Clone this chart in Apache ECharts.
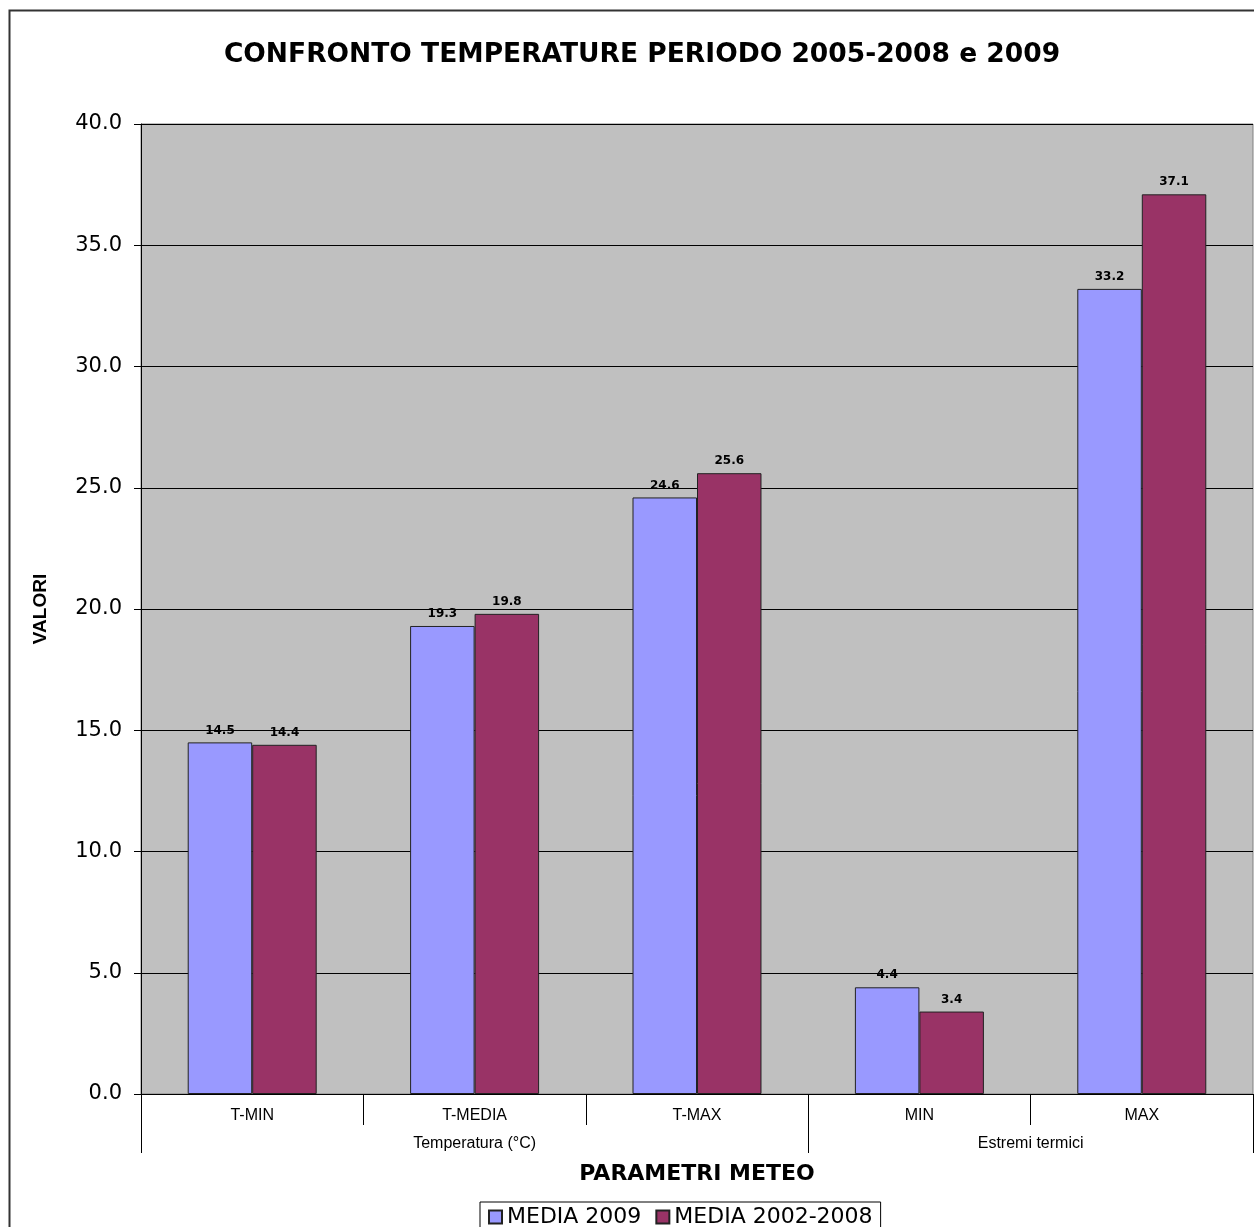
<!DOCTYPE html>
<html>
<head>
<meta charset="utf-8">
<style>
  html, body { margin: 0; padding: 0; background: #fff; }
  #chart { width: 1254px; height: 1227px; }
</style>
<script src="https://cdn.jsdelivr.net/npm/echarts@6/dist/echarts.min.js"></script>
</head>
<body>
<div id="chart"></div>
<script>
var categories = ['T-MIN', 'T-MEDIA', 'T-MAX', 'MIN', 'MAX'];
var groups = ['Temperatura (°C)', 'Estremi termici'];
var groupBounds = [0, 3, 5];   // in category units
var groupCenters = [1.5, 4];
var media2009 = [14.5, 19.3, 24.6, 4.4, 33.2];
var media0208 = [14.4, 19.8, 25.6, 3.4, 37.1];
var yTicks = [0, 5, 10, 15, 20, 25, 30, 35, 40];

var chartDom = document.getElementById('chart');
var myChart = echarts.init(chartDom);
var font = '"Liberation Sans", Arial, sans-serif';
var wide = '"DejaVu Sans", sans-serif';

var barLabel = {
  show: true,
  position: 'top',
  distance: 6,
  fontFamily: wide,
  fontWeight: 'bold',
  fontSize: 12,
  color: '#000',
  formatter: function (p) { return p.value.toFixed(1); }
};

var option = {
  animation: false,
  graphic: [
    {
      type: 'rect',
      left: 7, top: 8,
      shape: { width: 1400, height: 1400 },
      style: { fill: 'none', stroke: '#333', lineWidth: 2 },
      z: -10
    }
  ],
  title: {
    text: 'CONFRONTO TEMPERATURE PERIODO 2005-2008 e 2009',
    left: 637, top: 37, textAlign: 'center',
    textStyle: { fontFamily: wide, fontWeight: 'bold', fontSize: 26.5, color: '#000' }
  },
  legend: {
    left: 480, top: 1202,
    padding: [4, 8, 6, 8],
    borderColor: '#000', borderWidth: 1,
    icon: 'rect',
    itemWidth: 13, itemHeight: 13, itemGap: 14,
    textStyle: { fontFamily: wide, fontSize: 22, color: '#000' },
    data: ['MEDIA 2009', 'MEDIA 2002-2008']
  },
  grid: {
    left: 141, right: 1, top: 124, bottom: 133,
    show: true, backgroundColor: '#c0c0c0', borderColor: '#808080', borderWidth: 1
  },
  xAxis: [
    {
      type: 'category',
      data: categories,
      axisLine: { lineStyle: { color: '#000', width: 1 } },
      axisTick: { show: true, length: 31, lineStyle: { color: '#000' } },
      axisLabel: { fontFamily: font, fontSize: 16, color: '#000', margin: 14 },
      name: 'PARAMETRI METEO',
      nameLocation: 'middle',
      nameGap: 69,
      nameTextStyle: { fontFamily: wide, fontWeight: 'bold', fontSize: 22, color: '#000' }
    },
    {
      type: 'value',
      position: 'bottom',
      min: 0, max: categories.length,
      axisLine: { show: false },
      splitLine: { show: false },
      axisTick: { show: true, length: 59, customValues: groupBounds, lineStyle: { color: '#000' } },
      axisLabel: {
        customValues: groupCenters,
        margin: 42,
        fontFamily: font, fontSize: 16, color: '#000',
        formatter: function (v) { return groups[groupCenters.indexOf(v)] || ''; }
      }
    }
  ],
  yAxis: {
    type: 'value',
    min: yTicks[0], max: yTicks[yTicks.length - 1], interval: yTicks[1] - yTicks[0],
    name: 'VALORI',
    nameLocation: 'middle',
    nameGap: 91,
    nameTextStyle: { fontFamily: font, fontWeight: 'bold', fontSize: 19, color: '#000' },
    axisLine: { show: true, lineStyle: { color: '#000' } },
    axisTick: { show: true, length: 7, lineStyle: { color: '#000' } },
    axisLabel: {
      fontFamily: wide, fontSize: 21, color: '#000', margin: 19,
      formatter: function (v) { return v.toFixed(1); }
    },
    splitLine: { show: true, lineStyle: { color: '#000', width: 1 } }
  },
  series: [
    {
      name: 'MEDIA 2009',
      type: 'bar',
      data: media2009,
      barGap: '0%',
      barCategoryGap: '42%',
      itemStyle: { color: '#9999ff', borderColor: '#222', borderWidth: 1 },
      label: barLabel
    },
    {
      name: 'MEDIA 2002-2008',
      type: 'bar',
      data: media0208,
      itemStyle: { color: '#993366', borderColor: '#222', borderWidth: 1 },
      label: barLabel
    }
  ]
};

option && myChart.setOption(option);
</script>
</body>
</html>
